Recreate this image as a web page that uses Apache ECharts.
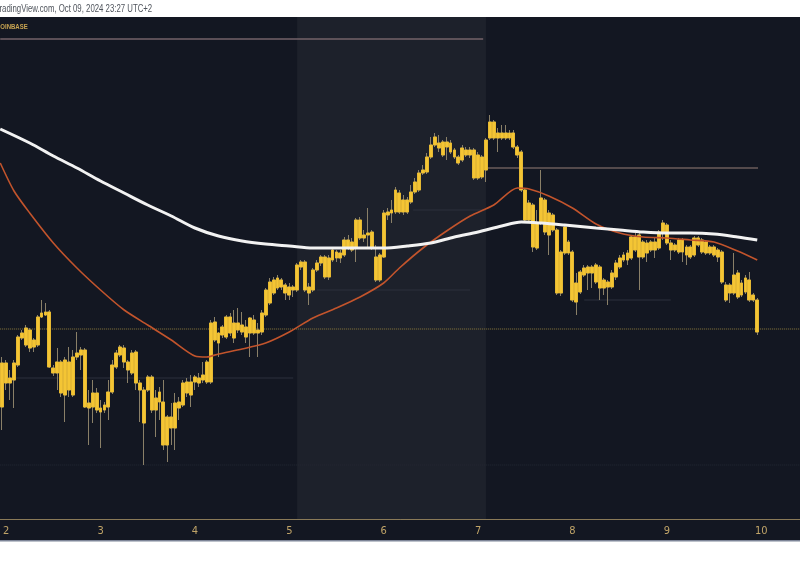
<!DOCTYPE html>
<html><head><meta charset="utf-8">
<script src="https://cdn.jsdelivr.net/npm/echarts@6/dist/echarts.min.js"></script>
<style>html,body{margin:0;padding:0;background:#fff}#c{width:800px;height:566px}</style>
</head><body><div id="c"></div>
<script>
// ---- data ----
const dayLabels = ['2','3','4','5','6','7','8','9','10'];
const dayHours = [0,24,48,72,96,120,144,168,192];
const firstCandleHour = -1; // hourly candles, hours since Oct 2 00:00
// [open, close, low, high]
const candles = [
[323,367,300,373],[367,347,340,370],[347,352,330,360],[350,367,322,370],[365,393,363,395],[392,397,390,400],
[402,385,383,405],[400,382,378,402],[383,390,378,392],[385,413,383,415],[413,417,412,430],[415,418,414,427],
[418,363,362,420],[362,357,354,365],[357,368,340,382],[368,337,333,370],[335,370,308,373],[368,340,333,383],
[335,373,333,380],[373,377,370,398],[375,380,360,383],[380,323,322,382],[322,327,285,340],[323,337,307,350],
[337,320,317,342],[322,318,282,330],[320,325,317,328],[323,338,310,350],[338,365,336,370],[363,377,361,380],
[375,383,373,385],[382,368,362,385],[368,360,347,370],[357,377,355,380],[378,347,340,380],[347,340,308,350],
[340,307,265,343],[340,353,338,355],[353,320,317,355],[320,332,293,340],[328,338,310,343],[328,285,280,350],
[285,313,268,315],[313,302,285,327],[302,327,280,337],[322,328,310,333],[325,347,323,350],[348,337,333,352],
[335,348,323,355],[348,353,340,355],[352,347,343,357],[350,355,347,368],[348,368,346,370],[348,407,346,410],
[408,390,388,413],[387,397,373,398],[395,403,392,405],[393,413,391,415],[413,397,394,417],[392,407,387,420],
[407,400,397,422],[398,405,395,418],[403,393,387,410],[397,412,373,413],[410,397,395,415],[397,400,373,407],
[398,417,395,420],[415,440,413,442],[427,448,425,452],[437,450,435,453],[442,452,440,455],[450,443,440,452],
[445,437,430,447],[443,435,430,447],[440,443,433,445],[440,465,438,467],[463,468,460,470],[468,440,438,470],
[437,443,425,447],[440,460,438,462],[460,467,458,470],[467,473,464,475],[473,453,451,475],[453,472,450,475],
[470,480,468,483],[478,472,468,480],[472,477,467,480],[475,490,473,493],[490,483,480,495],[480,488,478,492],
[482,510,468,512],[510,492,490,513],[492,495,488,500],[495,497,483,522],[498,483,480,500],[473,450,448,485],
[450,475,448,477],[473,517,472,520],[515,518,510,522],[517,520,507,530],[518,540,516,543],[537,518,516,540],
[518,530,515,535],[530,518,516,533],[528,538,526,545],[538,548,536,552],[540,557,538,560],[557,560,555,565],
[558,573,556,577],[573,585,571,593],[585,593,583,597],[587,582,578,595],[588,575,573,590],[583,588,570,593],
[587,578,576,590],[580,573,571,582],[573,567,565,575],[570,582,568,585],[580,575,573,583],[575,580,572,583],
[580,552,550,582],[552,575,550,578],[573,553,551,575],[560,590,548,592],[592,608,590,615],[608,592,590,610],
[592,597,578,602],[597,592,590,605],[592,597,590,605],[597,592,590,600],[597,583,581,600],[583,575,572,585],
[578,540,538,580],[540,510,508,542],[510,527,508,530],[525,483,478,527],[482,507,480,520],[507,532,505,560],
[530,498,495,532],[495,517,475,520],[515,500,498,517],[500,437,435,502],[437,478,434,480],[477,503,475,505],
[488,477,475,490],[478,430,428,480],[428,447,415,457],[438,458,436,460],[455,462,453,465],[457,463,440,465],
[463,457,442,465],[465,448,446,467],[463,442,430,465],[442,450,435,452],[448,443,425,450],[443,457,441,460],
[453,467,450,470],[463,472,461,475],[470,475,468,478],[470,477,465,480],[472,493,470,495],[493,480,478,497],
[473,495,440,497],[488,473,471,490],[477,487,468,490],[480,488,478,490],[488,480,472,492],[482,498,480,500],
[498,507,490,510],[505,487,485,507],[487,480,470,490],[480,485,478,487],[478,490,476,492],[490,478,468,492],
[483,475,465,485],[473,483,471,485],[475,492,473,494],[492,485,483,494],[490,478,476,492],[477,488,475,490],
[483,477,475,485],[475,483,473,485],[480,473,468,482],[478,448,446,480],[445,430,428,448],[437,445,427,447],
[437,455,435,477],[457,433,431,460],[435,447,433,450],[452,438,436,455],[450,430,428,458],[430,435,428,437],
[430,398,395,432]
];
const ma200Hours = [-1.5,6,12,18,24,30,36,42,48,54,60,66,72,78,84,90,96,102,108,114,120,126,131,136,142,150,156,162,168,174,180,186,191];
const ma200Values = [601,587,574,562,549,537,525,514,502,494,489,486,484,482,482,482,482,484,487,493,498,504,508,507,505,502,500,498,497,497,496,493,490];
const ma50Hours = [-1.5,2,6,12,18,24,30,36,42,48,51,54,60,66,72,78,84,90,96,100,106,112,118,124,130,133,138,144,150,156,162,168,174,180,186,191];
const ma50Values = [567,539,517,487,462,440,420,405,390,374,373,376,381,387,398,412,422,433,447,462,482,499,514,525,542,541,534,522,506,497,493,492,490,488,479,470];
const shadedHours = [74, 122];
const levelPrices = [691, 562, 352, 265, 440, 520, 430];
const levelFrom   = [-1.5, 122.3, -1.5, -1.5, 79, 103.5, 147];
const levelTo     = [121.3, 191.2, 73, 201.9, 118, 122, 169];
const lastPrice = 401;

// ---- view ----
const X_MIN = -1.525, X_MAX = 201.87, Y_MIN = 211, Y_MAX = 713;
const levelColors = ['#75636a','#6b5d5b','#2d313c','#262a35','#2d313c','#2d313c','#2d313c'];
const levelWidths = [1.5,1.5,1,1,1,1,1];

const chart = echarts.init(document.getElementById('c'), null, {renderer:'canvas'});
const series = [];
levelPrices.forEach((p,i)=>{
  series.push({type:'line', z:1, silent:true, symbol:'none', animation:false,
    data:[[levelFrom[i],p],[levelTo[i],p]],
    lineStyle:{color:levelColors[i], width:levelWidths[i], type: i===3?'dotted':'solid'}});
});
series.push({type:'line', z:1, silent:true, symbol:'none', animation:false,
  data:[[X_MIN,lastPrice],[X_MAX,lastPrice]],
  lineStyle:{color:'#8d7c3e', width:1, type:'dotted'}});
series.push({type:'candlestick', z:2, animation:false, barWidth:3.4, silent:true,
  encode:{x:0, y:[1,2,3,4]},
  data: candles.map((d,i)=>[firstCandleHour+i, d[0], d[1], d[2], d[3]]),
  itemStyle:{color:'transparent', color0:'transparent', borderColor:'#8a8068', borderColor0:'#8a8068', borderWidth:1},
  markArea:{silent:true, itemStyle:{color:'rgba(255,255,255,0.045)'}, data:[[{xAxis:shadedHours[0]},{xAxis:shadedHours[1]}]]}
});
series.push({type:'candlestick', z:3, animation:false, barWidth:3.4, silent:true,
  encode:{x:0, y:[1,2,3,4]},
  data: candles.map((d,i)=>[firstCandleHour+i, d[0], d[1], Math.min(d[0],d[1]), Math.max(d[0],d[1])]),
  itemStyle:{color:'#f4c534', color0:'#f4c534', borderColor:'#f0bf2c', borderColor0:'#f0bf2c', borderWidth:0.8}
});
series.push({type:'line', z:4, silent:true, symbol:'none', smooth:0.25, animation:false,
  data: ma50Hours.map((h,i)=>[h, ma50Values[i]]),
  lineStyle:{color:'#c2542c', width:1.6}});
series.push({type:'line', z:5, silent:true, symbol:'none', smooth:0.3, animation:false,
  data: ma200Hours.map((h,i)=>[h, ma200Values[i]]),
  lineStyle:{color:'#f2f2f2', width:3}});

chart.setOption({
  backgroundColor:'#ffffff',
  animation:false,
  graphic:{elements:[
    {type:'rect', z:-10, silent:true, shape:{x:0,y:17,width:800,height:524}, style:{fill:'#131722'}},
    {type:'rect', z:-9, silent:true, shape:{x:0,y:540,width:800,height:1.5}, style:{fill:'#7d8597'}},
    {type:'text', z:100, silent:true, x:-5, y:9, scaleX:0.78, style:{text:'TradingView.com, Oct 09, 2024 23:27 UTC+2', fill:'#4f545c', font:'10px "Liberation Sans", sans-serif', verticalAlign:'middle'}},
    {type:'text', z:100, silent:true, x:-4, y:27, scaleX:0.75, style:{text:'COINBASE', fill:'#c9a552', font:'bold 8px "Liberation Sans", sans-serif', verticalAlign:'middle'}}
  ]},
  grid:{left:0, right:0, top:17, bottom:47, containLabel:false},
  xAxis:{type:'value', min:X_MIN, max:X_MAX,
    axisLine:{show:true, lineStyle:{color:'#8a7a58', width:1}},
    axisTick:{show:false}, splitLine:{show:false},
    axisLabel:{customValues:dayHours, formatter:(v)=>dayLabels[dayHours.indexOf(v)] ?? '', color:'#c0a468', fontSize:11,
      fontFamily:'"Liberation Sans Narrow", "DejaVu Sans Condensed", sans-serif', margin:7}},
  yAxis:{type:'value', min:Y_MIN, max:Y_MAX, show:false, splitLine:{show:false}},
  series
});
</script></body></html>
